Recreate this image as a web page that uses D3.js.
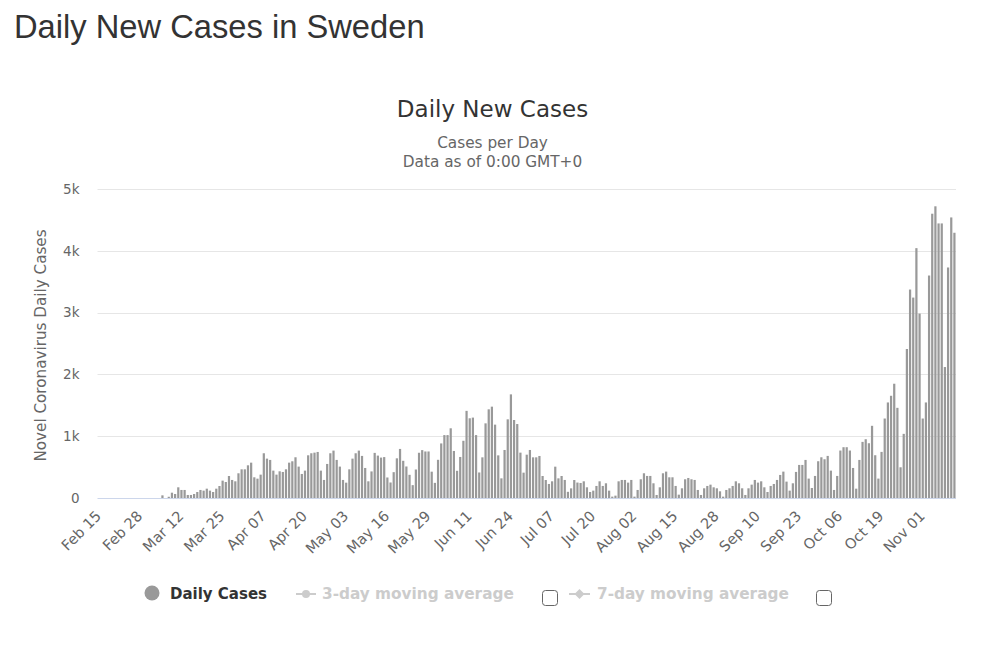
<!DOCTYPE html>
<html>
<head>
<meta charset="utf-8">
<script src="https://cdn.jsdelivr.net/npm/d3@7"></script>
<style>
  html, body { margin: 0; padding: 0; background: #fff; }
  svg { display: block; }
</style>
</head>
<body>
<svg id="chart" width="999" height="645"></svg>
<script>
// ---- data ----
const startDate = "2020-02-15";
const endDate = "2020-11-12"; // exclusive
const dailyCases = [
  0,0,0,0,0,0,0,0,0,0,
  0,0,0,0,0,0,0,0,0,0,
  43,0,20,86,65,173,130,130,49,49,
  65,97,130,119,151,119,97,151,194,281,
  259,356,292,270,400,464,464,529,572,335,
  313,378,724,637,616,443,378,432,421,464,
  572,594,659,508,389,443,691,724,734,745,
  443,292,551,724,767,616,508,292,248,464,
  637,724,767,681,486,270,430,730,686,654,
  662,332,251,418,642,794,602,510,375,208,
  461,732,775,753,753,426,245,618,883,1018,
  1018,1128,761,440,664,926,1410,1290,1301,1018,
  413,658,1208,1435,1478,1187,690,318,777,1273,
  1677,1262,1197,734,410,701,777,658,658,680,
  356,291,227,270,507,318,356,292,100,156,
  291,250,243,270,173,97,119,195,270,195,
  238,119,22,38,270,292,292,249,292,22,
  130,303,400,357,357,238,49,173,400,427,
  335,335,195,54,157,303,324,303,292,130,
  49,157,195,216,173,157,108,22,130,157,
  195,270,238,157,49,157,216,292,249,270,
  173,97,195,227,292,373,427,265,119,238,
  422,535,535,616,314,162,357,595,659,627,
  681,443,130,357,768,822,822,768,486,151,
  616,908,951,886,1168,692,314,746,1286,1546,
  1654,1849,1459,497,1038,2411,3373,3243,4043,2984,
  1286,1546,3600,4600,4720,4443,4443,2119,3730,4540,
  4292
];
const tickLabels = ["Feb 15","Feb 28","Mar 12","Mar 25","Apr 07","Apr 20","May 03","May 16","May 29","Jun 11","Jun 24","Jul 07","Jul 20","Aug 02","Aug 15","Aug 28","Sep 10","Sep 23","Oct 06","Oct 19","Nov 01"];
const yTicks = [0, 1000, 2000, 3000, 4000, 5000];
const yTickLabels = ["0", "1k", "2k", "3k", "4k", "5k"];

(function () {
// ---- build categories ----
const parse = d3.timeParse("%Y-%m-%d");
const fmt = d3.timeFormat("%b %d");
const categories = d3.timeDay.range(parse(startDate), parse(endDate)).map(fmt);
const data = categories.map((c, i) => ({ cat: c, v: dailyCases[i] || 0 }));

const svg = d3.select("#chart");
const pLeft = 97.5, pRight = 956, pTop = 189, pBottom = 498;

const x = d3.scaleBand().domain(categories).range([pLeft, pRight]).paddingInner(0.3).paddingOuter(0.15);
const y = d3.scaleLinear().domain([0, 5000]).range([pBottom, pTop]);

const chartFont = "'DejaVu Sans', 'Lucida Grande', sans-serif";

// page title
svg.append("text").attr("x", 14).attr("y", 38)
  .attr("font-family", "'Liberation Sans', Arial, Helvetica, sans-serif")
  .attr("font-size", 32.7).attr("fill", "#333")
  .text("Daily New Cases in Sweden");

// chart title & subtitles
svg.append("text").attr("x", 492.5).attr("y", 117).attr("text-anchor", "middle")
  .attr("font-family", chartFont).attr("font-size", 23).attr("fill", "#333")
  .text("Daily New Cases");
svg.append("text").attr("x", 492.5).attr("y", 148).attr("text-anchor", "middle")
  .attr("font-family", chartFont).attr("font-size", 15.3).attr("fill", "#666")
  .text("Cases per Day");
svg.append("text").attr("x", 492.5).attr("y", 167).attr("text-anchor", "middle")
  .attr("font-family", chartFont).attr("font-size", 15.3).attr("fill", "#666")
  .text("Data as of 0:00 GMT+0");

// gridlines
svg.append("g").selectAll("line").data(yTicks.filter(d => d > 0)).join("line")
  .attr("x1", pLeft).attr("x2", pRight)
  .attr("y1", d => Math.round(y(d)) + 0.5).attr("y2", d => Math.round(y(d)) + 0.5)
  .attr("stroke", "#e6e6e6").attr("stroke-width", 1);

// y axis labels
const yAxis = d3.axisLeft(y).tickValues(yTicks).tickFormat((d, i) => yTickLabels[i]).tickSize(0).tickPadding(0);
const gy = svg.append("g").attr("transform", `translate(${pLeft - 18},0)`).call(yAxis);
gy.select(".domain").remove();
gy.selectAll("text").attr("font-family", chartFont).attr("font-size", 13.5).attr("fill", "#666").attr("dy", "0.32em");

// y axis title
svg.append("text").attr("transform", `translate(46,${(pTop + pBottom) / 2 + 2}) rotate(-90)`)
  .attr("text-anchor", "middle").attr("font-family", chartFont).attr("font-size", 15.2).attr("fill", "#666")
  .text("Novel Coronavirus Daily Cases");

// bars
svg.append("g").selectAll("rect").data(data).join("rect")
  .attr("x", d => x(d.cat)).attr("width", x.bandwidth())
  .attr("y", d => y(d.v)).attr("height", d => y(0) - y(d.v))
  .attr("fill", "#999");

// x axis
const xAxis = d3.axisBottom(x).tickValues(tickLabels).tickSize(0).tickPadding(0);
const gx = svg.append("g").attr("transform", `translate(0,${pBottom})`).call(xAxis);
gx.select(".domain").attr("stroke", "#ccd6eb").attr("d", `M${pLeft},0.5H${pRight}`);
gx.selectAll("text").attr("font-family", chartFont).attr("font-size", 14.5).attr("fill", "#666")
  .attr("text-anchor", "end").attr("dy", null).attr("y", 0)
  .attr("transform", "translate(3,19) rotate(-45)");

// legend
const lg = svg.append("g").attr("font-family", chartFont).attr("font-weight", "bold").attr("font-size", 15);
lg.append("circle").attr("cx", 152).attr("cy", 593).attr("r", 7.5).attr("fill", "#999");
lg.append("text").attr("x", 170).attr("y", 599).attr("fill", "#333").text("Daily Cases");

lg.append("line").attr("x1", 296).attr("x2", 316).attr("y1", 594).attr("y2", 594).attr("stroke", "#ccc").attr("stroke-width", 2);
lg.append("circle").attr("cx", 306).attr("cy", 594).attr("r", 4).attr("fill", "#ccc");
lg.append("text").attr("x", 322).attr("y", 599).attr("fill", "#ccc").attr("font-size", 15.3).text("3-day moving average");
lg.append("rect").attr("x", 542.5).attr("y", 590.5).attr("width", 15).attr("height", 15).attr("rx", 3)
  .attr("fill", "#fff").attr("stroke", "#666").attr("stroke-width", 1);

lg.append("line").attr("x1", 569).attr("x2", 590).attr("y1", 594).attr("y2", 594).attr("stroke", "#ccc").attr("stroke-width", 2);
lg.append("path").attr("d", "M579.5,589L584.5,594L579.5,599L574.5,594Z").attr("fill", "#ccc");
lg.append("text").attr("x", 597).attr("y", 599).attr("fill", "#ccc").attr("font-size", 15.3).text("7-day moving average");
lg.append("rect").attr("x", 816.5).attr("y", 590.5).attr("width", 15).attr("height", 15).attr("rx", 3)
  .attr("fill", "#fff").attr("stroke", "#666").attr("stroke-width", 1);
})();
</script>
</body>
</html>
